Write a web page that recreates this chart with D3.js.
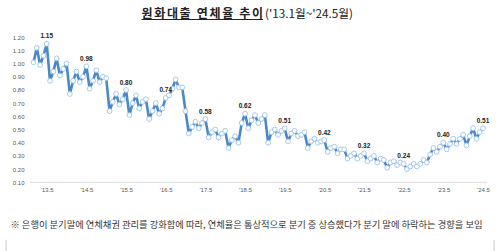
<!DOCTYPE html>
<html><head><meta charset="utf-8">
<script src="https://cdn.jsdelivr.net/npm/d3@7"></script>
<style>
html,body{margin:0;padding:0;background:#fff;}
svg{display:block;}
</style></head>
<body>
<svg id="chart" width="500" height="251"></svg>
<script>
// ---- data ----
const years = [2013,2014,2015,2016,2017,2018,2019,2020,2021,2022,2023,2024];
const rate2013 = [1.01,1.12,0.99,1.06,1.15,0.87,0.94,1.04,0.91,0.96,1.00,0.77];
const rate2014 = [0.87,0.94,0.86,0.90,0.98,0.81,0.87,0.95,0.86,0.90,0.89,0.64];
const rate2015 = [0.71,0.77,0.69,0.73,0.80,0.61,0.70,0.76,0.66,0.71,0.73,0.58];
const rate2016 = [0.64,0.70,0.62,0.66,0.74,0.76,0.81,0.88,0.82,0.82,0.64,0.47];
const rate2017 = [0.52,0.56,0.51,0.55,0.58,0.44,0.48,0.50,0.44,0.47,0.49,0.36];
const rate2018 = [0.42,0.45,0.40,0.55,0.62,0.51,0.57,0.61,0.55,0.58,0.61,0.40];
const rate2019 = [0.48,0.50,0.46,0.49,0.51,0.41,0.47,0.49,0.45,0.46,0.48,0.36];
const rate2020 = [0.41,0.43,0.40,0.41,0.42,0.33,0.36,0.37,0.32,0.35,0.35,0.28];
const rate2021 = [0.30,0.32,0.28,0.30,0.32,0.26,0.28,0.30,0.25,0.28,0.27,0.21];
const rate2022 = [0.25,0.26,0.23,0.25,0.24,0.20,0.22,0.24,0.22,0.24,0.27,0.25];
const rate2023 = [0.31,0.36,0.33,0.37,0.40,0.35,0.39,0.43,0.39,0.43,0.46,0.38];
const rate2024 = [0.45,0.51,0.43,0.48,0.51];
const yTicks = [0.10,0.20,0.30,0.40,0.50,0.60,0.70,0.80,0.90,1.00,1.10,1.20];
const xTickLabels = ["'13.5","'14.5","'15.5","'16.5","'17.5","'18.5","'19.5","'20.5","'21.5","'22.5","'23.5","'24.5"];
const labelledMonth = 5; // May of every year is labelled
const titleMain = "원화대출 연체율 추이";
const titleSub = "('13.1월~'24.5월)";
const footnote = "※ 은행이 분기말에 연체채권 관리를 강화함에 따라, 연체율은 통상적으로 분기 중 상승했다가 분기 말에 하락하는 경향을 보임";

// ---- build series ----
const allRates = [rate2013,rate2014,rate2015,rate2016,rate2017,rate2018,rate2019,rate2020,rate2021,rate2022,rate2023,rate2024];
const series = [];
allRates.forEach((arr, yi) => arr.forEach((v, mi) => series.push({year: years[yi], month: mi+1, value: v})));
series.forEach((d,i) => d.i = i);

const svg = d3.select("#chart");
const x = d3.scaleLinear().domain([0, series.length-1]).range([33.5, 483]);
const y = d3.scaleLinear().domain([0.1, 1.2]).range([182.3, 37.3]);

// title
svg.append("text").attr("x", 141.5).attr("y", 17.5)
  .style("font-family", "'Noto Sans CJK KR', sans-serif").attr("fill", "#222")
  .style("font-size", "12px").style("font-weight", 700)
  .attr("textLength", 121.5).attr("lengthAdjust", "spacing")
  .text(titleMain);
svg.append("text").attr("x", 265).attr("y", 17.5)
  .style("font-family", "'Noto Sans CJK KR', sans-serif").attr("fill", "#222")
  .style("font-size", "11.5px").style("font-weight", 400)
  .attr("textLength", 88).attr("lengthAdjust", "spacingAndGlyphs")
  .text(titleSub);
svg.append("line").attr("x1", 141.5).attr("x2", 263).attr("y1", 19.5).attr("y2", 19.5)
  .attr("stroke", "#222").attr("stroke-width", 1);

// baseline axis
svg.append("line").attr("x1", 30).attr("x2", 487).attr("y1", y(0.1)).attr("y2", y(0.1))
  .attr("stroke", "#d9d9d9").attr("stroke-width", 1);

// y axis labels
const yAxis = d3.axisLeft(y).tickValues(yTicks).tickFormat(d3.format(".2f")).tickSize(0).tickPadding(0);
const gy = svg.append("g").attr("transform", "translate(24.5,0)").call(yAxis);
gy.select(".domain").remove();
gy.selectAll("text").style("font-family", "'Liberation Sans', Arial, sans-serif")
  .style("font-size", "6px").attr("fill", "#595959");

// x axis labels
const xTickIdx = series.filter(d => d.month === labelledMonth).map(d => d.i);
const xAxis = d3.axisBottom(x).tickValues(xTickIdx).tickFormat((d,k) => xTickLabels[k]).tickSize(0).tickPadding(0);
const gx = svg.append("g").attr("transform", "translate(0,187.5)").call(xAxis);
gx.select(".domain").remove();
gx.selectAll("text").style("font-family", "'Liberation Sans', Arial, sans-serif")
  .style("font-size", "6px").attr("fill", "#595959");

// line
const line = d3.line().x(d => x(d.i)).y(d => y(d.value));
svg.append("path").datum(series).attr("d", line).attr("fill", "none")
  .attr("stroke", "#4a89c8").attr("stroke-width", 2.6).attr("stroke-linejoin", "round");

// markers
svg.append("g").selectAll("circle").data(series).join("circle")
  .attr("cx", d => x(d.i)).attr("cy", d => y(d.value)).attr("r", 2.4)
  .attr("fill", "#fff").attr("stroke", "#9cc3e8").attr("stroke-width", 0.9);

// data labels
svg.append("g").selectAll("text").data(series.filter(d => d.month === labelledMonth)).join("text")
  .attr("x", d => x(d.i)).attr("y", d => y(d.value) - 5.5)
  .attr("text-anchor", "middle")
  .style("font-family", "'Liberation Sans', Arial, sans-serif").style("font-size", "6.5px")
  .style("font-weight", 700).attr("fill", "#222")
  .text(d => d.value.toFixed(2));

// footnote
svg.append("text").attr("x", 10.5).attr("y", 227.5)
  .style("font-family", "'Noto Sans CJK KR', sans-serif").style("font-size", "9px")
  .attr("fill", "#333").attr("textLength", 472).attr("lengthAdjust", "spacingAndGlyphs")
  .text(footnote);

// frame corners
[6, 494].forEach(cx => svg.append("line").attr("x1", cx).attr("x2", cx).attr("y1", 240).attr("y2", 251)
  .attr("stroke", "#c8c8c8").attr("stroke-width", 1));
</script>
</body></html>
